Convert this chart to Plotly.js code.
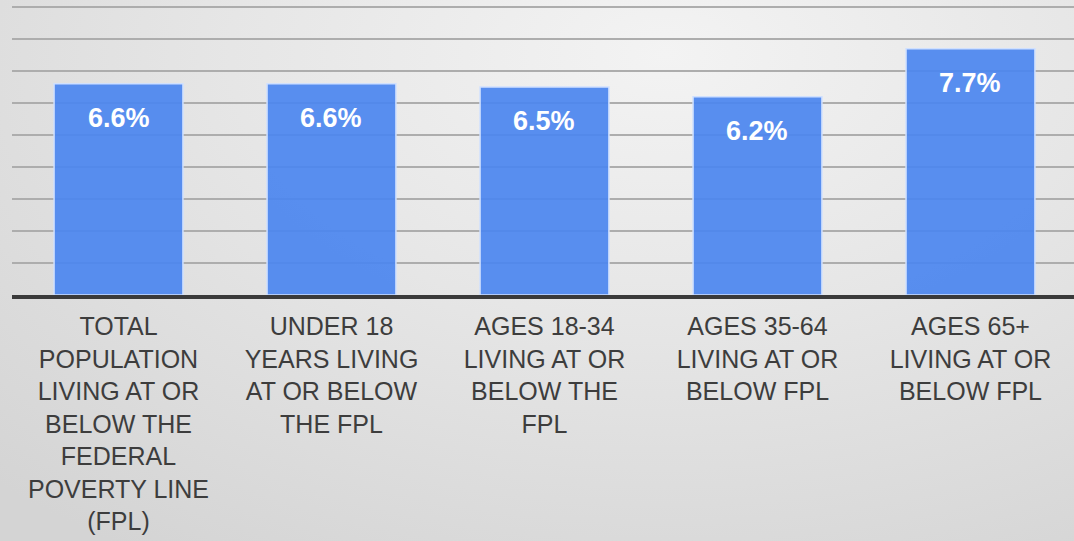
<!DOCTYPE html>
<html>
<head>
<meta charset="utf-8">
<script src="https://cdn.plot.ly/plotly-3.0.1.min.js"></script>
<style>
html,body{margin:0;padding:0;width:1074px;height:541px;overflow:hidden;
background:radial-gradient(ellipse 90% 110% at 62% 10%, #f3f3f3 0%, #e6e6e6 45%, #d4d4d4 100%);}
#chart{width:1074px;height:541px;}
</style>
</head>
<body>
<div id="chart"></div>
<script>
const categories = [
  "TOTAL<br>POPULATION<br>LIVING AT OR<br>BELOW THE<br>FEDERAL<br>POVERTY LINE<br>(FPL)",
  "UNDER 18<br>YEARS LIVING<br>AT OR BELOW<br>THE FPL",
  "AGES 18-34<br>LIVING AT OR<br>BELOW THE<br>FPL",
  "AGES 35-64<br>LIVING AT OR<br>BELOW FPL",
  "AGES 65+<br>LIVING AT OR<br>BELOW FPL"
];
const values = [6.6, 6.6, 6.5, 6.2, 7.7];
const valueLabels = ["6.6%", "6.6%", "6.5%", "6.2%", "7.7%"];

const trace = {
  type: 'bar',
  x: categories,
  y: values,
  marker: {color: 'rgba(76,134,239,0.93)', line: {color: '#cfe0ff', width: 1.5}},
  hoverinfo: 'skip'
};

const annotations = categories.map((c, i) => ({
  x: c, y: values[i], xref: 'x', yref: 'y',
  text: valueLabels[i], showarrow: false,
  yshift: -34, yanchor: 'middle',
  font: {family: 'Liberation Sans, Arial, sans-serif', size: 27, color: '#ffffff', weight: 'bold'}
}));

const layout = {
  width: 1074, height: 541,
  margin: {l: 12, r: 0, t: 0, b: 246},
  paper_bgcolor: 'rgba(0,0,0,0)',
  plot_bgcolor: 'rgba(0,0,0,0)',
  bargap: 0.395,
  showlegend: false,
  xaxis: {
    range: [-0.5, 4.486],
    showline: true, linecolor: '#3a3a3a', linewidth: 4,
    ticks: '', ticklabelstandoff: 6,
    tickfont: {family: 'Liberation Sans, Arial, sans-serif', size: 25, color: '#3d3d3d'},
    showgrid: false, fixedrange: true
  },
  yaxis: {
    range: [0, 9.22], dtick: 1,
    showticklabels: false, showgrid: true,
    gridcolor: '#adadad', gridwidth: 2,
    zeroline: false, fixedrange: true
  },
  annotations: annotations
};

Plotly.newPlot('chart', [trace], layout, {displayModeBar: false, staticPlot: true});
</script>
</body>
</html>
